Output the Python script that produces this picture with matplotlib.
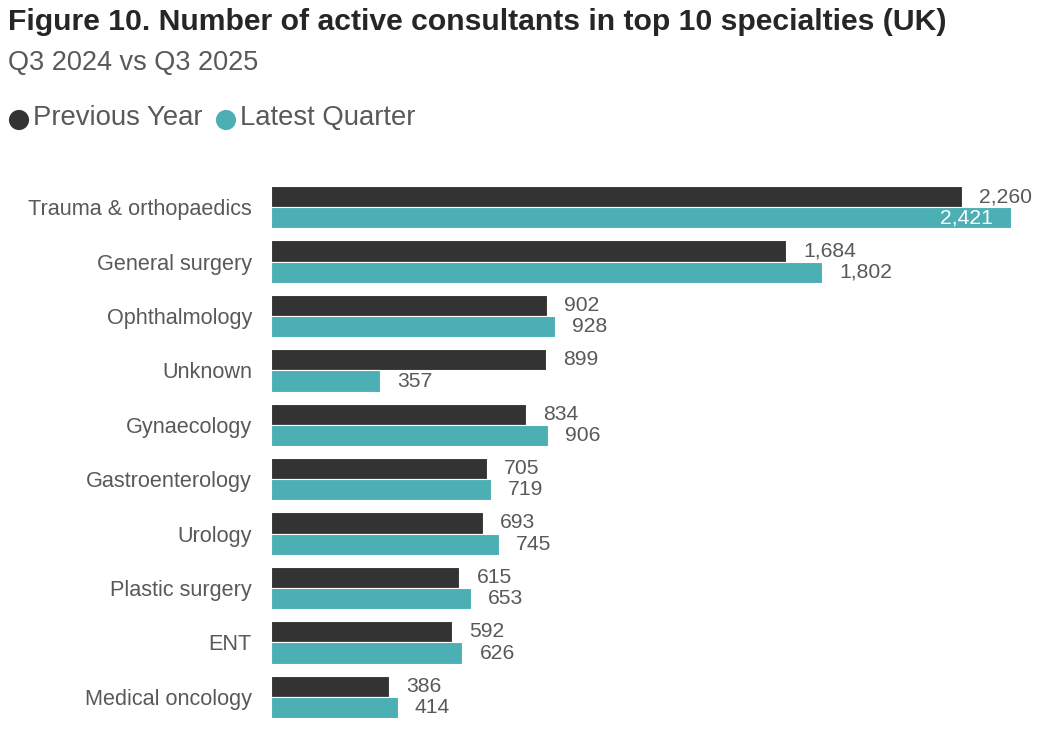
import numpy as np
import matplotlib.pyplot as plt

plt.rcParams['font.family'] = ['Liberation Sans', 'DejaVu Sans']

specialties = ['Trauma & orthopaedics', 'General surgery', 'Ophthalmology', 'Unknown',
               'Gynaecology', 'Gastroenterology', 'Urology', 'Plastic surgery', 'ENT',
               'Medical oncology']
previous_year = [2260, 1684, 902, 899, 834, 705, 693, 615, 592, 386]
latest_quarter = [2421, 1802, 928, 357, 906, 719, 745, 653, 626, 414]

dark = '#333333'
teal = '#4BAFB4'
grey = '#595959'

W, H = 1042, 730
fig = plt.figure(figsize=(W / 100, H / 100), dpi=100)
ax = fig.add_axes([271 / W, 6 / H, 771 / W, 544 / H])

y = np.arange(len(specialties))
bh = 0.39
ax.barh(y - bh / 2, previous_year, height=bh, color=dark, edgecolor='white', linewidth=0.8)
ax.barh(y + bh / 2, latest_quarter, height=bh, color=teal, edgecolor='white', linewidth=0.8)

xmax = 2522
ax.set_xlim(0, xmax)
ax.set_ylim(len(specialties) - 0.5, -0.5)

for i, (p, l) in enumerate(zip(previous_year, latest_quarter)):
    ax.text(p + 57, i - bh / 2, f'{p:,}', va='center', ha='left', fontsize=15.2, color=grey)
    if l > 2300:
        ax.text(l - 60, i + bh / 2, f'{l:,}', va='center', ha='right', fontsize=15.2, color='white')
    else:
        ax.text(l + 57, i + bh / 2, f'{l:,}', va='center', ha='left', fontsize=15.2, color=grey)

ax.set_yticks(y)
ax.set_yticklabels(specialties, fontsize=15.6, color=grey)
ax.tick_params(axis='y', length=0, pad=13.7)
ax.set_xticks([])
for s in ax.spines.values():
    s.set_visible(False)

fig.text(8 / W, 1 - 22 / H, 'Figure 10. Number of active consultants in top 10 specialties (UK)',
         fontsize=21.7, fontweight='bold', color='#262626', va='center', ha='left')
fig.text(8 / W, 1 - 63 / H, 'Q3 2024 vs Q3 2025', fontsize=19.5, color=grey, va='center', ha='left')

# legend
fig.text(33 / W, 1 - 118 / H, 'Previous Year', fontsize=19.8, color=grey, va='center', ha='left')
fig.text(240 / W, 1 - 118 / H, 'Latest Quarter', fontsize=19.8, color=grey, va='center', ha='left')
lax = fig.add_axes([0, 0, 1, 1], facecolor='none')
lax.set_xlim(0, W)
lax.set_ylim(H, 0)
lax.axis('off')
lax.scatter([19, 226], [120, 120], s=210, c=[dark, teal], linewidths=0)

fig.savefig('out.png', dpi=100)
